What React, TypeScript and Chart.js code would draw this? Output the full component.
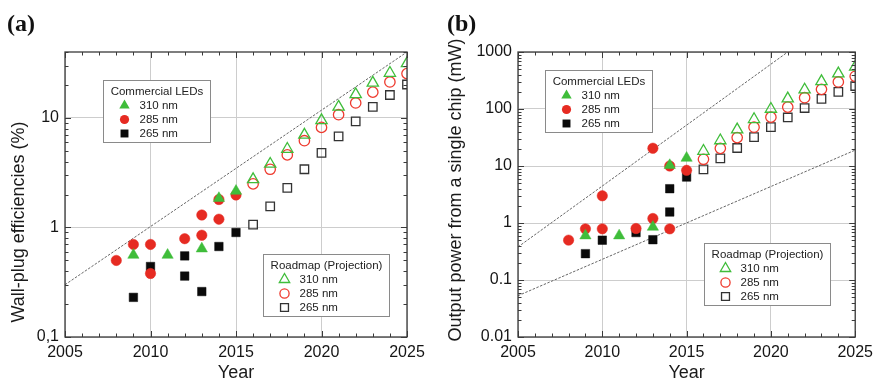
import React, { useEffect, useRef } from 'react';
import { Chart, registerables } from 'chart.js';

Chart.register(...registerables);

// ---------------- Data ----------------
const ROAD_YEARS = [2016, 2017, 2018, 2019, 2020, 2021, 2022, 2023, 2024, 2025];

// Panel (a): wall-plug efficiency (%)
const A_COM310_YEARS = [2009, 2011, 2013, 2014, 2015];
const A_COM310_VALS = [0.56, 0.56, 0.64, 1.85, 2.15];
const A_COM285_YEARS = [2008, 2009, 2010, 2010, 2012, 2013, 2013, 2014, 2014, 2015];
const A_COM285_VALS = [0.5, 0.7, 0.7, 0.38, 0.79, 1.3, 0.85, 1.19, 1.8, 1.98];
const A_COM265_YEARS = [2009, 2010, 2012, 2012, 2013, 2014, 2015];
const A_COM265_VALS = [0.23, 0.44, 0.55, 0.36, 0.26, 0.67, 0.9];
const A_ROAD310 = [2.75, 3.8, 5.2, 7.0, 9.5, 12.6, 16.4, 20.9, 25.7, 31.5];
const A_ROAD285 = [2.5, 3.4, 4.6, 6.2, 8.2, 10.7, 13.7, 17.2, 21.3, 25.4];
const A_ROAD265 = [1.06, 1.56, 2.3, 3.4, 4.8, 6.8, 9.3, 12.6, 16.2, 20.2];
const A_TREND_YEARS = [2005, 2025];
const A_TREND_VALS = [0.3, 40];
const A_Y_TICKS = [0.1, 1, 10];

// Panel (b): output power from a single chip (mW)
const B_COM310_YEARS = [2009, 2011, 2013, 2014, 2015];
const B_COM310_VALS = [0.6, 0.6, 0.85, 10.3, 13.8];
const B_COM285_YEARS = [2008, 2009, 2010, 2010, 2012, 2013, 2013, 2014, 2014, 2015];
const B_COM285_VALS = [0.5, 0.79, 0.79, 3.0, 0.8, 1.2, 20.5, 0.79, 10, 8.4];
const B_COM265_YEARS = [2009, 2010, 2012, 2013, 2014, 2014, 2015];
const B_COM265_VALS = [0.29, 0.5, 0.68, 0.51, 4.0, 1.56, 6.4];
const B_ROAD310 = [18.3, 28, 43.5, 66, 100, 152, 218, 306, 417, 547];
const B_ROAD285 = [13.1, 20.4, 31.5, 48, 72, 108, 158, 221, 298, 375];
const B_ROAD265 = [8.7, 13.6, 20.7, 32, 48, 71, 104, 150, 199, 253];
const B_TREND_UP_YEARS = [2005, 2021];
const B_TREND_UP_VALS = [0.38, 1000];
const B_TREND_LOW_YEARS = [2005, 2025];
const B_TREND_LOW_VALS = [0.053, 19];
const B_Y_TICKS = [0.01, 0.1, 1, 10, 100, 1000];

const X_TICKS = [2005, 2010, 2015, 2020, 2025];
const SERIES_LABELS = ['310 nm', '285 nm', '265 nm'];

// ---------------- Styles ----------------
const FONT = "'Liberation Sans', Arial, Helvetica, sans-serif";
const GREEN = '#3fbd3a';
const RED = '#e62b22';
const BLACK = '#0a0a0a';
const OPEN_GREEN = '#3fbd3a';
const OPEN_RED = '#ee3a2e';
const OPEN_BLACK = '#333333';

type Shape = 'triangle' | 'circle' | 'rect';

const pts = (xs: number[], ys: number[]) => xs.map((x, i) => ({ x, y: ys[i] }));

function drawMarker(
  ctx: CanvasRenderingContext2D,
  shape: Shape,
  x: number,
  y: number,
  r: number,
  color: string,
  filled: boolean
) {
  ctx.save();
  ctx.beginPath();
  if (shape === 'circle') {
    ctx.arc(x, y, r, 0, Math.PI * 2);
  } else if (shape === 'triangle') {
    ctx.moveTo(x, y - r);
    ctx.lineTo(x + r * 0.866, y + r * 0.5);
    ctx.lineTo(x - r * 0.866, y + r * 0.5);
    ctx.closePath();
  } else {
    const s = r * Math.SQRT1_2;
    ctx.rect(x - s, y - s, 2 * s, 2 * s);
  }
  if (filled) {
    ctx.fillStyle = color;
    ctx.fill();
  } else {
    ctx.strokeStyle = color;
    ctx.lineWidth = 1.3;
    ctx.stroke();
  }
  ctx.restore();
}

function pointDs(label: string, data: any[], shape: Shape, color: string, filled: boolean, group: string) {
  const r = shape === 'circle' ? 5.2 : shape === 'triangle' ? 6.5 : 6;
  return {
    label,
    data,
    showLine: false,
    pointStyle: shape,
    pointRadius: r,
    pointHoverRadius: r,
    backgroundColor: filled ? color : 'rgba(0,0,0,0)',
    borderColor: color,
    pointBorderWidth: filled ? 0.5 : 1.3,
    clip: 0,
    _shape: shape,
    _filled: filled,
    _group: group,
  };
}

function trendDs(data: any[]) {
  return {
    label: 'trend',
    data,
    showLine: true,
    pointRadius: 0,
    borderColor: '#666666',
    borderWidth: 1,
    borderDash: [2.5, 1.5],
    fill: false,
    clip: 0,
    _group: 'trend',
  };
}

interface PanelSpec {
  panel: string;
  yTitle: string;
  yTitleX: number;
  yTitleY: number;
  yMin: number;
  yMax: number;
  yTicks: number[];
  yFmt: (v: number) => string;
  axisWidth: number;
  padRight: number;
  datasets: any[];
  legends: { title: string; group: string; fx: number; fy: number }[];
}

const framePlugin = {
  id: 'frame',
  afterDatasetsDraw(chart: any) {
    const spec: PanelSpec = chart.options.plugins.frame.spec;
    const { ctx, chartArea: a } = chart;
    const xs = chart.scales.x;
    const ys = chart.scales.y;
    ctx.save();
    // box
    ctx.strokeStyle = '#3a3a3a';
    ctx.lineWidth = 1.3;
    ctx.strokeRect(a.left, a.top, a.right - a.left, a.bottom - a.top);
    // x ticks
    ctx.lineWidth = 1;
    ctx.strokeStyle = '#3a3a3a';
    for (let yr = xs.min; yr <= xs.max; yr++) {
      const px = Math.round(xs.getPixelForValue(yr)) + 0.5;
      const len = (yr - 2005) % 5 === 0 ? 6 : 3.5;
      ctx.beginPath();
      ctx.moveTo(px, a.bottom);
      ctx.lineTo(px, a.bottom - len);
      ctx.moveTo(px, a.top);
      ctx.lineTo(px, a.top + len);
      ctx.stroke();
    }
    // y ticks (log)
    const d0 = Math.floor(Math.log10(ys.min));
    const d1 = Math.ceil(Math.log10(ys.max));
    for (let d = d0; d <= d1; d++) {
      for (let m = 1; m <= 9; m++) {
        const v = m * Math.pow(10, d);
        if (v < ys.min * 0.999 || v > ys.max * 1.001) continue;
        const py = Math.round(ys.getPixelForValue(v)) + 0.5;
        const len = m === 1 ? 6 : 3.5;
        ctx.beginPath();
        ctx.moveTo(a.left, py);
        ctx.lineTo(a.left + len, py);
        ctx.moveTo(a.right, py);
        ctx.lineTo(a.right - len, py);
        ctx.stroke();
      }
    }
    // legends
    const dsets = chart.data.datasets;
    ctx.font = `11.5px ${FONT}`;
    spec.legends.forEach((lg) => {
      const items = dsets.filter((d: any) => d._group === lg.group);
      const tw = ctx.measureText(lg.title).width;
      const w = Math.round(tw + 14);
      const h = 62;
      const bx = Math.round(a.left + lg.fx * (a.right - a.left)) + 0.5;
      const by = Math.round(a.top + lg.fy * (a.bottom - a.top)) + 0.5;
      ctx.fillStyle = '#ffffff';
      ctx.fillRect(bx, by, w, h);
      ctx.strokeStyle = '#8a8a8a';
      ctx.lineWidth = 1;
      ctx.strokeRect(bx, by, w, h);
      ctx.fillStyle = '#222';
      ctx.textBaseline = 'middle';
      ctx.textAlign = 'center';
      ctx.fillText(lg.title, bx + w / 2, by + 11);
      ctx.textAlign = 'left';
      items.forEach((d: any, i: number) => {
        const ry = by + 25 + 14 * i;
        const r = d._shape === 'circle' ? 4.6 : d._shape === 'triangle' ? 6 : 5.6;
        drawMarker(ctx, d._shape, bx + 21, ry, r, d.borderColor, d._filled);
        ctx.fillStyle = '#222';
        ctx.fillText(d.label, bx + 36, ry);
      });
    });
    ctx.restore();
  },
  afterDraw(chart: any) {
    const spec: PanelSpec = chart.options.plugins.frame.spec;
    const { ctx } = chart;
    ctx.save();
    // y title
    ctx.translate(spec.yTitleX, spec.yTitleY);
    ctx.rotate(-Math.PI / 2);
    ctx.font = `18px ${FONT}`;
    ctx.fillStyle = '#1a1a1a';
    ctx.textAlign = 'center';
    ctx.textBaseline = 'middle';
    ctx.fillText(spec.yTitle, 0, 0);
    ctx.restore();
    // panel label
    ctx.save();
    ctx.font = `bold 24px 'Liberation Serif', 'Times New Roman', serif`;
    ctx.fillStyle = '#111';
    ctx.textAlign = 'left';
    ctx.textBaseline = 'alphabetic';
    ctx.fillText(spec.panel, 7, 31);
    ctx.restore();
  },
};

function buildConfig(spec: PanelSpec): any {
  return {
    type: 'scatter',
    data: { datasets: spec.datasets },
    plugins: [framePlugin],
    options: {
      animation: false,
      responsive: false,
      maintainAspectRatio: false,
      events: [],
      layout: { padding: { top: 52, right: spec.padRight, left: 0, bottom: 0 } },
      plugins: {
        legend: { display: false },
        tooltip: { enabled: false },
        title: { display: false },
        frame: { spec },
      },
      scales: {
        x: {
          type: 'linear',
          min: 2005,
          max: 2025,
          afterBuildTicks: (s: any) => {
            s.ticks = X_TICKS.map((v) => ({ value: v }));
          },
          afterFit: (s: any) => {
            s.height = 45;
          },
          ticks: {
            callback: (v: number) => String(v),
            font: { family: FONT, size: 16 },
            color: '#151515',
            padding: 6,
            maxRotation: 0,
            autoSkip: false,
          },
          grid: { color: '#cdcdcd', lineWidth: 1, drawTicks: false },
          border: { display: false },
          title: {
            display: true,
            text: 'Year',
            font: { family: FONT, size: 18, lineHeight: 1 },
            color: '#1a1a1a',
            padding: { top: 0, bottom: 0 },
          },
        },
        y: {
          type: 'logarithmic',
          min: spec.yMin,
          max: spec.yMax,
          afterBuildTicks: (s: any) => {
            s.ticks = spec.yTicks.map((v) => ({ value: v }));
          },
          afterFit: (s: any) => {
            s.width = spec.axisWidth;
          },
          ticks: {
            callback: (v: number) => spec.yFmt(v),
            font: { family: FONT, size: 16 },
            color: '#151515',
            padding: 6,
            autoSkip: false,
          },
          grid: { color: '#cdcdcd', lineWidth: 1, drawTicks: false },
          border: { display: false },
        },
      },
    },
  };
}

const SPEC_A: PanelSpec = {
  panel: '(a)',
  yTitle: 'Wall-plug efficiencies (%)',
  yTitleX: 19,
  yTitleY: 222,
  yMin: 0.1,
  yMax: 40,
  yTicks: A_Y_TICKS,
  yFmt: (v) => (Math.abs(v - 0.1) < 1e-9 ? '0,1' : String(v)),
  axisWidth: 65,
  padRight: 33,
  datasets: [
    pointDs(SERIES_LABELS[0], pts(A_COM310_YEARS, A_COM310_VALS), 'triangle', GREEN, true, 'com'),
    pointDs(SERIES_LABELS[1], pts(A_COM285_YEARS, A_COM285_VALS), 'circle', RED, true, 'com'),
    pointDs(SERIES_LABELS[2], pts(A_COM265_YEARS, A_COM265_VALS), 'rect', BLACK, true, 'com'),
    pointDs(SERIES_LABELS[0], pts(ROAD_YEARS, A_ROAD310), 'triangle', OPEN_GREEN, false, 'road'),
    pointDs(SERIES_LABELS[1], pts(ROAD_YEARS, A_ROAD285), 'circle', OPEN_RED, false, 'road'),
    pointDs(SERIES_LABELS[2], pts(ROAD_YEARS, A_ROAD265), 'rect', OPEN_BLACK, false, 'road'),
    trendDs(pts(A_TREND_YEARS, A_TREND_VALS)),
  ],
  legends: [
    { title: 'Commercial LEDs', group: 'com', fx: 0.111, fy: 0.098 },
    { title: 'Roadmap (Projection)', group: 'road', fx: 0.579, fy: 0.709 },
  ],
};

const SPEC_B: PanelSpec = {
  panel: '(b)',
  yTitle: 'Output power from a single chip (mW)',
  yTitleX: 16,
  yTitleY: 190,
  yMin: 0.01,
  yMax: 1000,
  yTicks: B_Y_TICKS,
  yFmt: (v) => String(v),
  axisWidth: 78,
  padRight: 20,
  datasets: [
    pointDs(SERIES_LABELS[0], pts(B_COM310_YEARS, B_COM310_VALS), 'triangle', GREEN, true, 'com'),
    pointDs(SERIES_LABELS[1], pts(B_COM285_YEARS, B_COM285_VALS), 'circle', RED, true, 'com'),
    pointDs(SERIES_LABELS[2], pts(B_COM265_YEARS, B_COM265_VALS), 'rect', BLACK, true, 'com'),
    pointDs(SERIES_LABELS[0], pts(ROAD_YEARS, B_ROAD310), 'triangle', OPEN_GREEN, false, 'road'),
    pointDs(SERIES_LABELS[1], pts(ROAD_YEARS, B_ROAD285), 'circle', OPEN_RED, false, 'road'),
    pointDs(SERIES_LABELS[2], pts(ROAD_YEARS, B_ROAD265), 'rect', OPEN_BLACK, false, 'road'),
    trendDs(pts(B_TREND_UP_YEARS, B_TREND_UP_VALS)),
    trendDs(pts(B_TREND_LOW_YEARS, B_TREND_LOW_VALS)),
  ],
  legends: [
    { title: 'Commercial LEDs', group: 'com', fx: 0.079, fy: 0.063 },
    { title: 'Roadmap (Projection)', group: 'road', fx: 0.551, fy: 0.67 },
  ],
};

function Panel({ spec, left, width }: { spec: PanelSpec; left: number; width: number }) {
  const ref = useRef<HTMLCanvasElement | null>(null);
  useEffect(() => {
    if (!ref.current) return;
    const chart = new Chart(ref.current, buildConfig(spec));
    return () => chart.destroy();
  }, [spec]);
  return (
    <div style={{ position: 'absolute', left, top: 0, width, height: 382 }}>
      <canvas ref={ref} width={width} height={382} style={{ display: 'block', width, height: 382 }} />
    </div>
  );
}

export default function App() {
  return (
    <div
      style={{
        position: 'fixed',
        left: 0,
        top: 0,
        width: 879,
        height: 382,
        background: '#ffffff',
        overflow: 'hidden',
      }}
    >
      <Panel spec={SPEC_A} left={0} width={440} />
      <Panel spec={SPEC_B} left={440} width={439} />
    </div>
  );
}
